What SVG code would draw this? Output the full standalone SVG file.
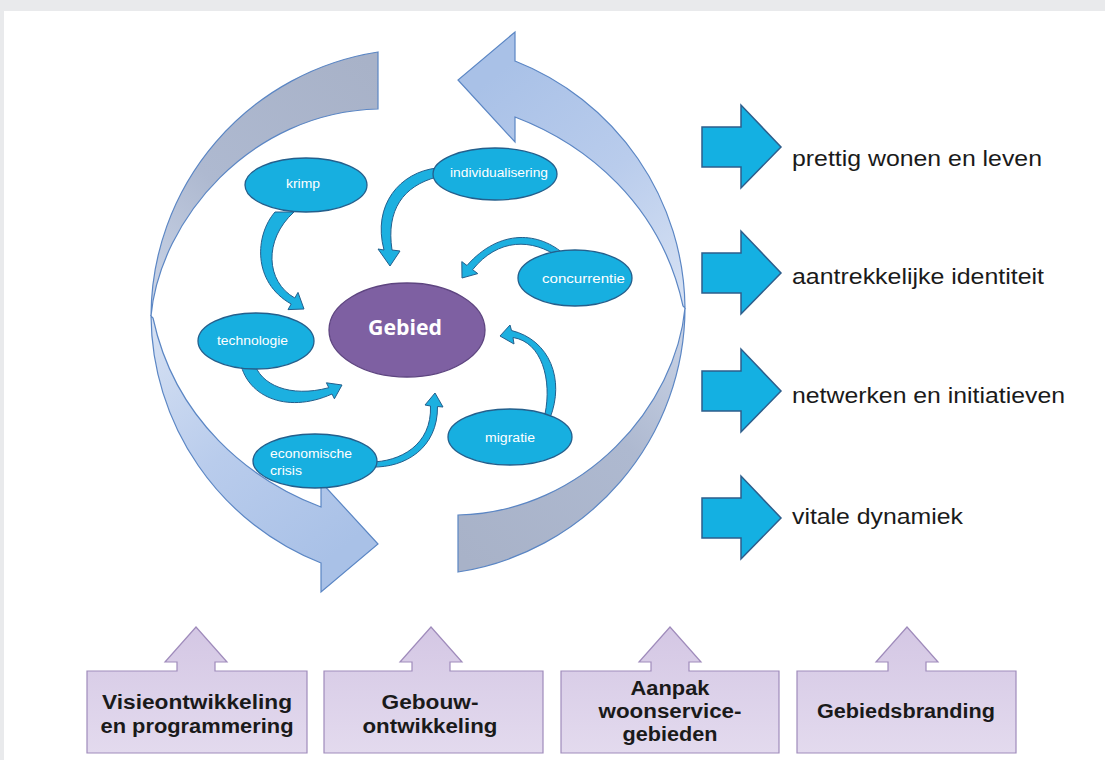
<svg xmlns="http://www.w3.org/2000/svg" width="1105" height="760" viewBox="0 0 1105 760">
<defs>
<linearGradient id="gGray" gradientUnits="userSpaceOnUse" x1="378" y1="70" x2="155" y2="305">
<stop offset="0" stop-color="#A8B2C8"/><stop offset="0.6" stop-color="#AEB9D0"/><stop offset="1" stop-color="#C9D3E6"/>
</linearGradient>
<linearGradient id="gBlue" gradientUnits="userSpaceOnUse" x1="155" y1="320" x2="340" y2="550">
<stop offset="0" stop-color="#D6E1F3"/><stop offset="0.5" stop-color="#B9CCEC"/><stop offset="1" stop-color="#A9C1E7"/>
</linearGradient>
<linearGradient id="gBox" x1="0" y1="0" x2="0" y2="1">
<stop offset="0" stop-color="#D4C7E4"/><stop offset="1" stop-color="#E3DAEE"/>
</linearGradient>
<path id="rarrow" d="M702,-20 L741,-20 L741,-42 L781,0 L741,41 L741,20 L702,20 Z"/>
</defs>
<style>
.big{stroke:#5B86C4;stroke-width:1.2}
.cy{fill:#17AFE0;stroke:#245F8C;stroke-width:1.3}
.sa{fill:#1CB0E0;stroke:#245F8C;stroke-width:1}
.et{font-family:"Liberation Sans",Arial,sans-serif;font-size:12.5px;fill:#FFFFFF}
.rt{font-family:"Liberation Sans",Arial,sans-serif;font-size:21.8px;fill:#1A1A1A}
.bt{font-family:"Liberation Sans",Arial,sans-serif;font-size:19.5px;font-weight:bold;fill:#1A1A1A;text-anchor:middle}
.box{fill:url(#gBox);stroke:#9F8BBB;stroke-width:1.2}
.ra{fill:#14B0E2;stroke:#2D5E8C;stroke-width:1.5}
</style>
<rect width="1105" height="760" fill="#E9EAEC"/>
<rect x="4" y="11" width="1101" height="749" fill="#FFFFFF"/>

<g id="cycle">
<g id="cycle-left">
<path class="big" fill="url(#gGray)" d="M378,52 A268,268 0 0 0 151,316 C160,220 250,112 378,109 Z"/>
<path class="big" fill="url(#gBlue)" d="M151,316 A268,268 0 0 0 321,563 L321,592 L378,544 L321,482 L321,507 C250,480 175,420 153,318 Z"/>
</g>
<g id="cycle-right" transform="rotate(180 418 312)">
<path class="big" fill="url(#gGray)" d="M378,52 A268,268 0 0 0 151,316 C160,220 250,112 378,109 Z"/>
<path class="big" fill="url(#gBlue)" d="M151,316 A268,268 0 0 0 321,563 L321,592 L378,544 L321,482 L321,507 C250,480 175,420 153,318 Z"/>
</g>
</g>

<g id="connectors">
<path class="sa" d="M275,212 C255,235 252,282 291.2,304 L288,309.6 L304,309 L298,292.4 L294.8,298 C266,282 263,240 294,212 Z"/>
<path class="sa" d="M437,168 C400,172 372,205 384,250 L378,249 L390,266 L400,251 L392,250 C386,210 403,186 437,177 Z"/>
<path class="sa" d="M565,255 C540,232 500,228 467,265.5 L461.8,261.6 L462,278 L477.8,273.6 L472.6,269.7 C498,238 532,238 560,258 Z"/>
<path class="sa" d="M240,360 C245,395 285,415 332,394 L334.4,398.8 L342,385 L326.4,382.8 L328.8,387.7 C290,398 260,385 254,362 Z"/>
<path class="sa" d="M370,462 C400,462 432,445 430.5,406 L425,405 L435,393 L443,407 L437.5,406.5 C438,448 405,468 372,467 Z"/>
<path class="sa" d="M550,418 C565,380 550,340 511.5,330.5 L510,325 L500,336 L514,344 L513,337.5 C542,342 552,380 545,414 Z"/>
</g>

<g id="node-krimp">
<ellipse class="cy" cx="306" cy="185" rx="61" ry="27"/>
<text class="et" x="286" y="188" textLength="34" lengthAdjust="spacingAndGlyphs">krimp</text>
</g>
<g id="node-individualisering">
<ellipse class="cy" cx="495" cy="174" rx="62" ry="26"/>
<text class="et" x="450" y="177" textLength="98" lengthAdjust="spacingAndGlyphs">individualisering</text>
</g>
<g id="node-concurrentie">
<ellipse class="cy" cx="575" cy="278" rx="57" ry="28"/>
<text class="et" x="542" y="283" textLength="83" lengthAdjust="spacingAndGlyphs">concurrentie</text>
</g>
<g id="node-technologie">
<ellipse class="cy" cx="256" cy="341" rx="58" ry="28"/>
<text class="et" x="217" y="345" textLength="71" lengthAdjust="spacingAndGlyphs">technologie</text>
</g>
<g id="node-gebied">
<ellipse cx="407" cy="330" rx="78" ry="47" fill="#7E60A2" stroke="#5E4580" stroke-width="1.3"/>
<text x="368" y="335" textLength="74" lengthAdjust="spacingAndGlyphs" font-family="'Open Sans','Liberation Sans',sans-serif" font-size="20.5px" font-weight="bold" fill="#FFFFFF">Gebied</text>
</g>
<g id="node-economische-crisis">
<ellipse class="cy" cx="315" cy="461" rx="62" ry="27"/>
<text class="et" x="270" y="458" textLength="82" lengthAdjust="spacingAndGlyphs">economische</text>
<text class="et" x="270" y="475" textLength="32" lengthAdjust="spacingAndGlyphs">crisis</text>
</g>
<g id="node-migratie">
<ellipse class="cy" cx="510" cy="437" rx="62" ry="28"/>
<text class="et" x="485" y="442" textLength="50" lengthAdjust="spacingAndGlyphs">migratie</text>
</g>

<g id="out-1">
<use href="#rarrow" class="ra" transform="translate(0,147)"/>
<text class="rt" x="792" y="166" textLength="250" lengthAdjust="spacingAndGlyphs">prettig wonen en leven</text>
</g>
<g id="out-2">
<use href="#rarrow" class="ra" transform="translate(0,273)"/>
<text class="rt" x="792" y="284" textLength="252" lengthAdjust="spacingAndGlyphs">aantrekkelijke identiteit</text>
</g>
<g id="out-3">
<use href="#rarrow" class="ra" transform="translate(0,391)"/>
<text class="rt" x="792" y="403" textLength="273" lengthAdjust="spacingAndGlyphs">netwerken en initiatieven</text>
</g>
<g id="out-4">
<use href="#rarrow" class="ra" transform="translate(0,518)"/>
<text class="rt" x="792" y="524" textLength="171" lengthAdjust="spacingAndGlyphs">vitale dynamiek</text>
</g>

<g id="box-1">
<path class="box" d="M87,671 L177,671 L177,662 L165,662 L196,627 L227,662 L215,662 L215,671 L307,671 L307,753 L87,753 Z"/>
<text class="bt" x="197" y="709" textLength="190" lengthAdjust="spacingAndGlyphs">Visieontwikkeling</text>
<text class="bt" x="197" y="733" textLength="193" lengthAdjust="spacingAndGlyphs">en programmering</text>
</g>
<g id="box-2">
<path class="box" d="M324,671 L412,671 L412,662 L400,662 L431,627 L462,662 L450,662 L450,671 L543,671 L543,753 L324,753 Z"/>
<text class="bt" x="430" y="709" textLength="97" lengthAdjust="spacingAndGlyphs">Gebouw-</text>
<text class="bt" x="430" y="733" textLength="135" lengthAdjust="spacingAndGlyphs">ontwikkeling</text>
</g>
<g id="box-3">
<path class="box" d="M561,671 L651,671 L651,662 L639,662 L670,627 L701,662 L689,662 L689,671 L779,671 L779,753 L561,753 Z"/>
<text class="bt" x="670" y="695" textLength="79" lengthAdjust="spacingAndGlyphs">Aanpak</text>
<text class="bt" x="670" y="718" textLength="143" lengthAdjust="spacingAndGlyphs">woonservice-</text>
<text class="bt" x="670" y="741" textLength="95" lengthAdjust="spacingAndGlyphs">gebieden</text>
</g>
<g id="box-4">
<path class="box" d="M797,671 L888,671 L888,662 L876,662 L907,627 L938,662 L926,662 L926,671 L1016,671 L1016,753 L797,753 Z"/>
<text class="bt" x="906" y="718" textLength="178" lengthAdjust="spacingAndGlyphs">Gebiedsbranding</text>
</g>
</svg>
